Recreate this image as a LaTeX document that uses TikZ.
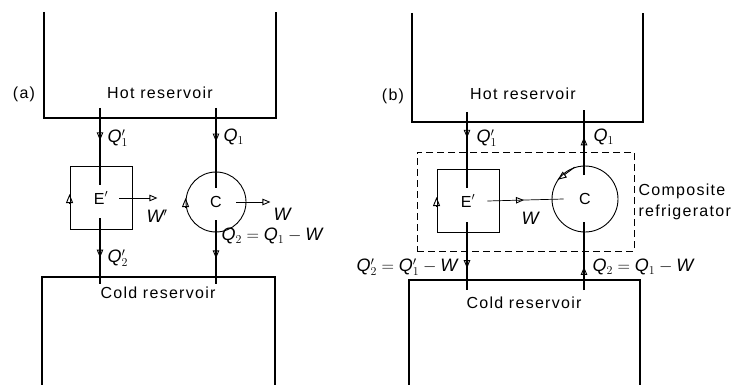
\documentclass[tikz,border=0pt]{standalone}
\usepackage{fontspec}
\setmainfont[LetterSpace=8]{Liberation Sans}
\usetikzlibrary{arrows.meta,decorations.markings}

\begin{document}
\begin{tikzpicture}[x=1pt,y=-1pt,
  font=\fontsize{16}{21}\selectfont,
  wall/.style={line width=1.3pt},
  flow/.style={line width=1.1pt, postaction={decorate},
    decoration={markings, mark=at position #1 with {\arrow{Triangle[open,length=8pt,width=6.5pt,line width=0.9pt]}}}},
  engine/.style={draw, line width=0.9pt, minimum width=62pt, minimum height=63pt, inner sep=0pt},
  pump/.style={draw, circle, line width=0.9pt, minimum size=#1, inner sep=0pt},
  work/.style={line width=0.7pt, -{Triangle[open,length=8pt,width=6.5pt,line width=0.9pt]}},
  tip/.style={line width=0.9pt, -{Triangle[open,length=9pt,width=7pt,line width=0.9pt]}},
  qlabel/.style={font=\fontsize{18}{21}\selectfont}
]
\useasboundingbox (0,0) rectangle (736,385);

% (a) engine E' and refrigerator C side by side
\draw[wall] (44,12) -- (44,118) -- (276,118) -- (276,12);
\draw[wall] (42,385) -- (42,277) -- (275,277) -- (275,385);
\node (taga) at (24,94) {(a)};
\node (hota) at (160,93) {Hot reservoir};
\node (colda) at (158,293) {Cold reservoir};
\node[engine] (Ea) at (101,198) {E$'$};
\node[pump=60pt] (Ca) at (216,202) {C};
\coordinate (ha1) at (100,108);
\coordinate (ea1) at (100,185);
\coordinate (ea2) at (100,218);
\coordinate (la1) at (100,284);
\coordinate (ha2) at (216,108);
\coordinate (ca1) at (216,188);
\coordinate (ca2) at (216,220);
\coordinate (la2) at (216,284);
\draw[flow=0.42] (ha1) -- (ea1);
\draw[flow=0.42] (ha2) -- (ca1);
\draw[flow=0.6] (ea2) -- (la1);
\draw[flow=0.6] (ca2) -- (la2);
\draw[tip] ([yshift=-6pt]Ea.west) -- ([yshift=4pt]Ea.west);
\draw[tip] ([yshift=-6pt]Ca.west) -- ([yshift=4pt]Ca.west);
\draw[work] ([xshift=-13pt]Ea.east) -- ++(38,0);
\draw[work] ([xshift=-10pt]Ca.east) -- ++(34,0);
\node[qlabel, anchor=west] (qa1) at (104,138) {$\mathit{Q}'_1$};
\node[qlabel, anchor=west] (qa2) at (220,137) {$\mathit{Q}_1$};
\node[qlabel, anchor=west] (qa3) at (104,258) {$\mathit{Q}'_2$};
\node[qlabel, anchor=west] (qa4) at (218,236) {$\mathit{Q}_2=\mathit{Q}_1-\mathit{W}$};
\node[qlabel] (wa1) at (157,216) {$\mathit{W}'$};
\node[qlabel] (wa2) at (282,214) {$\mathit{W}$};

% (b) the pair run as one composite refrigerator
\draw[wall] (412,13) -- (412,122) -- (643,122) -- (643,13);
\draw[wall] (409,385) -- (409,280) -- (640,280) -- (640,385);
\node (tagb) at (393,96) {(b)};
\node (hotb) at (523,94) {Hot reservoir};
\node (coldb) at (524,303) {Cold reservoir};
\node[draw, dash pattern=on 7pt off 4pt, line width=0.8pt, minimum width=217pt, minimum height=99pt] (comp) at (525.5,201.5) {};
\node[engine] (Eb) at (468,201) {E$'$};
\node[pump=66pt] (Cb) at (585,199) {C};
\coordinate (hb1) at (467,112);
\coordinate (eb1) at (467,188);
\coordinate (eb2) at (467,222);
\coordinate (lb1) at (467,290);
\coordinate (hb2) at (584,110);
\coordinate (cb1) at (584,175);
\coordinate (cb2) at (584,222);
\coordinate (lb2) at (584,290);
\draw[flow=0.34] (hb1) -- (eb1);
\draw[flow=0.58] (cb1) -- (hb2);
\draw[flow=0.68] (eb2) -- (lb1);
\draw[flow=0.34] (lb2) -- (cb2);
\draw[flow=0.48, line width=0.7pt] ([xshift=-12pt]Eb.east) -- ([xshift=12pt]Cb.west);
\draw[tip] ([yshift=-6pt]Eb.west) -- ([yshift=4pt]Eb.west);
\draw[tip] (Cb.108) -- (Cb.145);
\node[qlabel, anchor=west] (qb1) at (473,138) {$\mathit{Q}'_1$};
\node[qlabel, anchor=west] (qb2) at (590,137) {$\mathit{Q}_1$};
\node[qlabel, anchor=east] (qb3) at (461,267) {$\mathit{Q}'_2=\mathit{Q}'_1-\mathit{W}$};
\node[qlabel, anchor=west] (qb4) at (589,267) {$\mathit{Q}_2=\mathit{Q}_1-\mathit{W}$};
\node[qlabel] (wb) at (530,218) {$\mathit{W}$};
\node[anchor=west, align=left] (compl) at (635,202) {Composite\\refrigerator};
\end{tikzpicture}
\end{document}
